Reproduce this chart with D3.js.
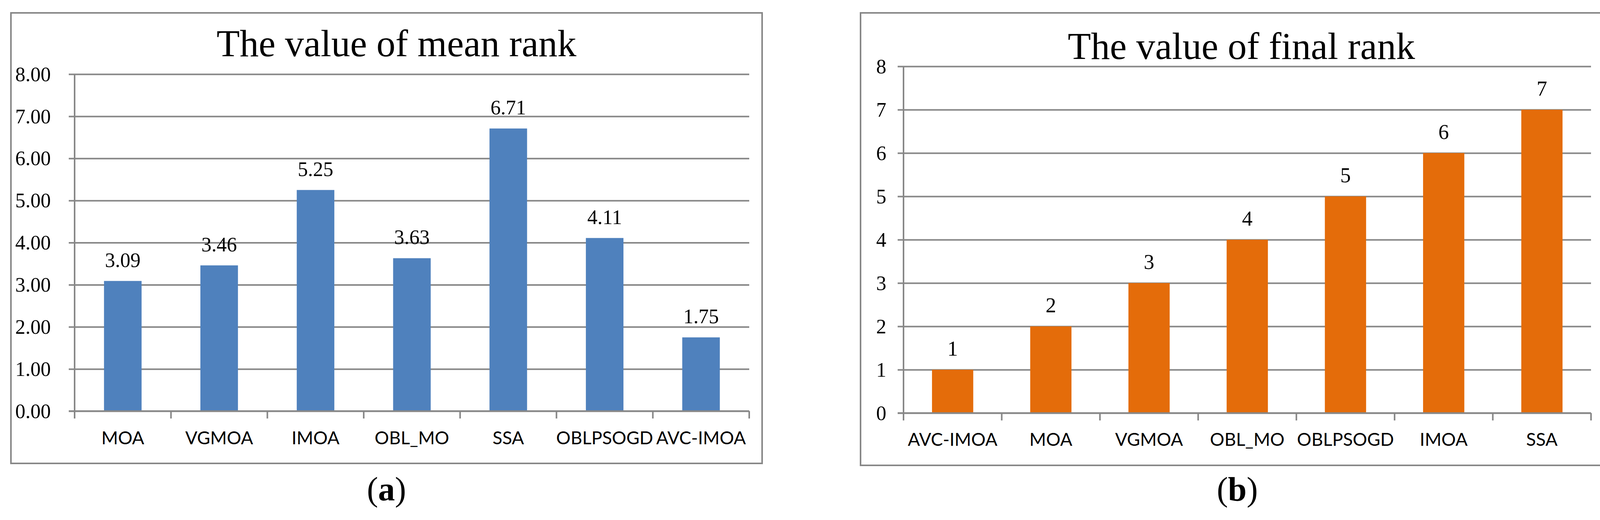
<!DOCTYPE html>
<html>
<head>
<meta charset="utf-8">
<script src="https://cdn.jsdelivr.net/npm/d3@7"></script>
<style>
  html, body { margin: 0; padding: 0; background: #ffffff; }
  svg { display: block; }
</style>
</head>
<body>
<svg id="chart" width="4161" height="1332"></svg>
<script>
// ---- data ----
const titleA = "The value of mean rank";
const catsA = ["MOA", "VGMOA", "IMOA", "OBL_MO", "SSA", "OBLPSOGD", "AVC-IMOA"];
const valsA = [3.09, 3.46, 5.25, 3.63, 6.71, 4.11, 1.75];
const tickValsA = [0, 1, 2, 3, 4, 5, 6, 7, 8];
const tickLabelsA = ["0.00", "1.00", "2.00", "3.00", "4.00", "5.00", "6.00", "7.00", "8.00"];

const titleB = "The value of final rank";
const catsB = ["AVC-IMOA", "MOA", "VGMOA", "OBL_MO", "OBLPSOGD", "IMOA", "SSA"];
const valsB = [1, 2, 3, 4, 5, 6, 7];
const tickValsB = [0, 1, 2, 3, 4, 5, 6, 7, 8];
const tickLabelsB = ["0", "1", "2", "3", "4", "5", "6", "7", "8"];

const captionLetters = ["a", "b"];

// ---- drawing ----
const svg = d3.select("#chart");
const GRID = "#878787";
const SERIF = "'Liberation Serif', 'Times New Roman', serif";
const SANS = "Lato, 'Open Sans', sans-serif";

function drawPanel(cfg) {
  const g = svg.append("g");
  // outer frame
  g.append("rect")
    .attr("x", cfg.frame[0]).attr("y", cfg.frame[1])
    .attr("width", cfg.frame[2]).attr("height", cfg.frame[3])
    .attr("fill", "#fff").attr("stroke", GRID).attr("stroke-width", 4);

  const x = d3.scaleBand().domain(cfg.cats).range([cfg.left, cfg.right])
    .paddingInner(cfg.pad).paddingOuter(cfg.pad / 2);
  const y = d3.scaleLinear().domain([0, 8]).range([cfg.bottom, cfg.top]);

  // y axis with gridlines
  const yAxis = d3.axisLeft(y).tickValues(cfg.tickVals)
    .tickFormat((d, i) => cfg.tickLabels[i])
    .tickSizeInner(-(cfg.right - cfg.left)).tickSizeOuter(0).tickPadding(0);
  const ya = g.append("g").attr("transform", `translate(${cfg.left},0)`).call(yAxis);
  ya.select(".domain").remove();
  ya.selectAll(".tick line")
    .attr("x1", -15).attr("x2", cfg.right - cfg.left)
    .attr("stroke", GRID).attr("stroke-width", 4);
  ya.selectAll(".tick text")
    .attr("x", cfg.labelRight - cfg.left)
    .attr("dy", "0.33em")
    .attr("fill", "#000")
    .style("font-family", SERIF)
    .style("font-size", "52px")
    .attr("text-anchor", "end");

  // vertical axis line
  g.append("line")
    .attr("x1", cfg.left).attr("x2", cfg.left)
    .attr("y1", y(8)).attr("y2", cfg.bottom + 19)
    .attr("stroke", GRID).attr("stroke-width", 4);

  // bars
  g.selectAll("rect.bar").data(cfg.vals).enter().append("rect")
    .attr("class", "bar")
    .attr("x", (d, i) => x(cfg.cats[i]))
    .attr("y", d => y(d))
    .attr("width", x.bandwidth())
    .attr("height", d => y(0) - y(d))
    .attr("fill", cfg.color);

  // redraw x axis on top of bars
  g.append("line")
    .attr("x1", cfg.left - 15).attr("x2", cfg.right)
    .attr("y1", y(0)).attr("y2", y(0))
    .attr("stroke", GRID).attr("stroke-width", 4);
  const bounds = d3.range(cfg.cats.length + 1);
  g.selectAll("line.xt").data(bounds).enter().append("line")
    .attr("class", "xt")
    .attr("x1", i => cfg.left + i * x.step())
    .attr("x2", i => cfg.left + i * x.step())
    .attr("y1", y(0)).attr("y2", y(0) + 19)
    .attr("stroke", GRID).attr("stroke-width", 4);

  // x labels
  const xAxis = d3.axisBottom(x).tickSize(0).tickPadding(0);
  const xa = g.append("g").attr("transform", `translate(0,${cfg.xLabelBase})`).call(xAxis);
  xa.select(".domain").remove();
  xa.selectAll(".tick text")
    .attr("y", 0).attr("dy", 0)
    .attr("fill", "#000")
    .style("font-family", SANS)
    .style("font-size", "46px");

  // data labels
  g.selectAll("text.val").data(cfg.vals).enter().append("text")
    .attr("class", "val")
    .attr("x", (d, i) => x(cfg.cats[i]) + x.bandwidth() / 2)
    .attr("y", d => y(d) - 36)
    .attr("text-anchor", "middle")
    .style("font-family", SERIF)
    .style("font-size", cfg.valSize)
    .text(d => cfg.valFmt(d));

  // title
  g.append("text")
    .attr("x", cfg.titleX).attr("y", cfg.titleY)
    .attr("text-anchor", "middle")
    .style("font-family", SERIF)
    .style("font-size", "97px")
    .text(cfg.title);

  // caption
  const cap = g.append("text")
    .attr("x", cfg.frame[0] + cfg.frame[2] / 2).attr("y", 1282)
    .attr("text-anchor", "middle")
    .style("font-family", SERIF)
    .style("font-size", "86px");
  cap.append("tspan").text("(");
  cap.append("tspan").style("font-weight", "bold").text(cfg.caption);
  cap.append("tspan").text(")");
}

drawPanel({
  frame: [28, 33, 1923, 1154],
  left: 191, right: 1918, top: 190, bottom: 1053, pad: 0.61,
  cats: catsA, vals: valsA, tickVals: tickValsA, tickLabels: tickLabelsA,
  labelRight: 130, xLabelBase: 1138, color: "#4F81BD",
  valSize: "52px", valFmt: d => d.toFixed(2),
  title: titleA, titleX: 1015, titleY: 144, caption: captionLetters[0]
});

drawPanel({
  frame: [2203, 33, 1929, 1159],
  left: 2313, right: 4073, top: 170, bottom: 1058, pad: 0.58,
  cats: catsB, vals: valsB, tickVals: tickValsB, tickLabels: tickLabelsB,
  labelRight: 2269, xLabelBase: 1142, color: "#E46C0A",
  valSize: "54px", valFmt: d => String(d),
  title: titleB, titleX: 3178, titleY: 151, caption: captionLetters[1]
});
</script>
</body>
</html>
